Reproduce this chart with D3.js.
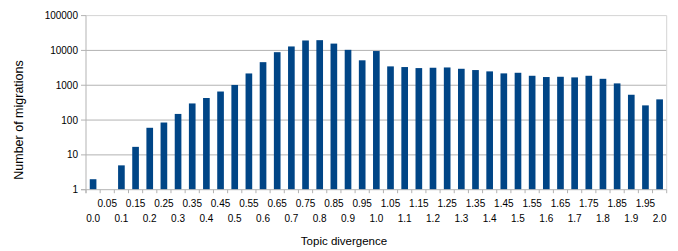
<!DOCTYPE html>
<html>
<head>
<meta charset="utf-8">
<script src="https://cdn.jsdelivr.net/npm/d3@7"></script>
<style>
  body { margin: 0; background: #fff; }
  svg text { font-family: "Liberation Sans", Arial, sans-serif; fill: #000; }
</style>
</head>
<body>
<svg id="chart" width="678" height="251"></svg>
<script>
// topic divergence buckets
const categories = ["0.0","0.05","0.1","0.15","0.2","0.25","0.3","0.35","0.4","0.45",
  "0.5","0.55","0.6","0.65","0.7","0.75","0.8","0.85","0.9","0.95",
  "1.0","1.05","1.1","1.15","1.2","1.25","1.3","1.35","1.4","1.45",
  "1.5","1.55","1.6","1.65","1.7","1.75","1.8","1.85","1.9","1.95","2.0"];

// number of migrations per bucket (0.05 has none)
const migrations = [2, null, 5, 17, 60, 85, 150, 300, 430, 660,
  1020, 2180, 4600, 8900, 13000, 19300, 19700, 15700, 10400, 5200,
  9600, 3480, 3330, 3110, 3180, 3240, 2970, 2730, 2500, 2190,
  2280, 1870, 1720, 1750, 1680, 1870, 1530, 1130, 533, 264, 393];

const yTicks = [1, 10, 100, 1000, 10000, 100000];

const svg = d3.select("#chart");
const mLeft = 86, mRight = 666.7, mTop = 15.6, mBottom = 189.7;

const x = d3.scaleBand()
    .domain(categories)
    .range([mLeft, mRight])
    .paddingInner(0.53)
    .paddingOuter(0.265);

const y = d3.scaleLog()
    .domain([1, 100000])
    .range([mBottom, mTop]);

const step = x.step();

// gridlines
svg.append("g")
  .selectAll("line")
  .data(yTicks.slice(1))
  .join("line")
    .attr("x1", mLeft).attr("x2", mRight)
    .attr("y1", d => y(d)).attr("y2", d => y(d))
    .attr("stroke", (d, i) => i === yTicks.length - 2 ? "#d4d4d4" : "#b3b3b3")
    .attr("stroke-width", 1);

// right border
svg.append("line")
    .attr("x1", mRight).attr("x2", mRight)
    .attr("y1", mTop).attr("y2", mBottom)
    .attr("stroke", "#d4d4d4");

// bars
svg.append("g")
  .selectAll("rect")
  .data(categories.map((c, i) => ({c, v: migrations[i]})).filter(d => d.v))
  .join("rect")
    .attr("x", d => x(d.c))
    .attr("width", x.bandwidth())
    .attr("y", d => y(d.v))
    .attr("height", d => mBottom - y(d.v))
    .attr("fill", "#004586");

// y axis
const yAxis = svg.append("g");
yAxis.append("line")
    .attr("x1", mLeft).attr("x2", mLeft)
    .attr("y1", mTop).attr("y2", mBottom + 3.5)
    .attr("stroke", "#b3b3b3");
yAxis.selectAll("line.tick")
  .data(yTicks)
  .join("line")
    .attr("class", "tick")
    .attr("x1", mLeft - 5).attr("x2", mLeft)
    .attr("y1", d => y(d)).attr("y2", d => y(d))
    .attr("stroke", "#b3b3b3");
yAxis.selectAll("text")
  .data(yTicks)
  .join("text")
    .attr("x", mLeft - 8)
    .attr("y", d => y(d))
    .attr("dy", "0.35em")
    .attr("text-anchor", "end")
    .style("font-size", "10px")
    .text(d => d);

// x axis
const xAxis = svg.append("g");
xAxis.append("line")
    .attr("x1", mLeft - 5).attr("x2", mRight)
    .attr("y1", mBottom).attr("y2", mBottom)
    .attr("stroke", "#b3b3b3");
xAxis.selectAll("line.tick")
  .data(d3.range(categories.length + 1))
  .join("line")
    .attr("class", "tick")
    .attr("x1", i => mLeft + i * step).attr("x2", i => mLeft + i * step)
    .attr("y1", mBottom).attr("y2", mBottom + 3.5)
    .attr("stroke", "#b3b3b3");
xAxis.selectAll("text")
  .data(categories)
  .join("text")
    .attr("x", d => x(d) + x.bandwidth() / 2)
    .attr("y", (d, i) => i % 2 ? 207.3 : 221.6)
    .attr("text-anchor", "middle")
    .style("font-size", "10px")
    .text(d => d);

// axis titles
svg.append("text")
    .attr("x", 344)
    .attr("y", 245)
    .attr("text-anchor", "middle")
    .style("font-size", "11.5px")
    .text("Topic divergence");

svg.append("text")
    .attr("transform", "translate(22.5,120) rotate(-90)")
    .attr("text-anchor", "middle")
    .style("font-size", "12.5px")
    .text("Number of migrations");
</script>
</body>
</html>
